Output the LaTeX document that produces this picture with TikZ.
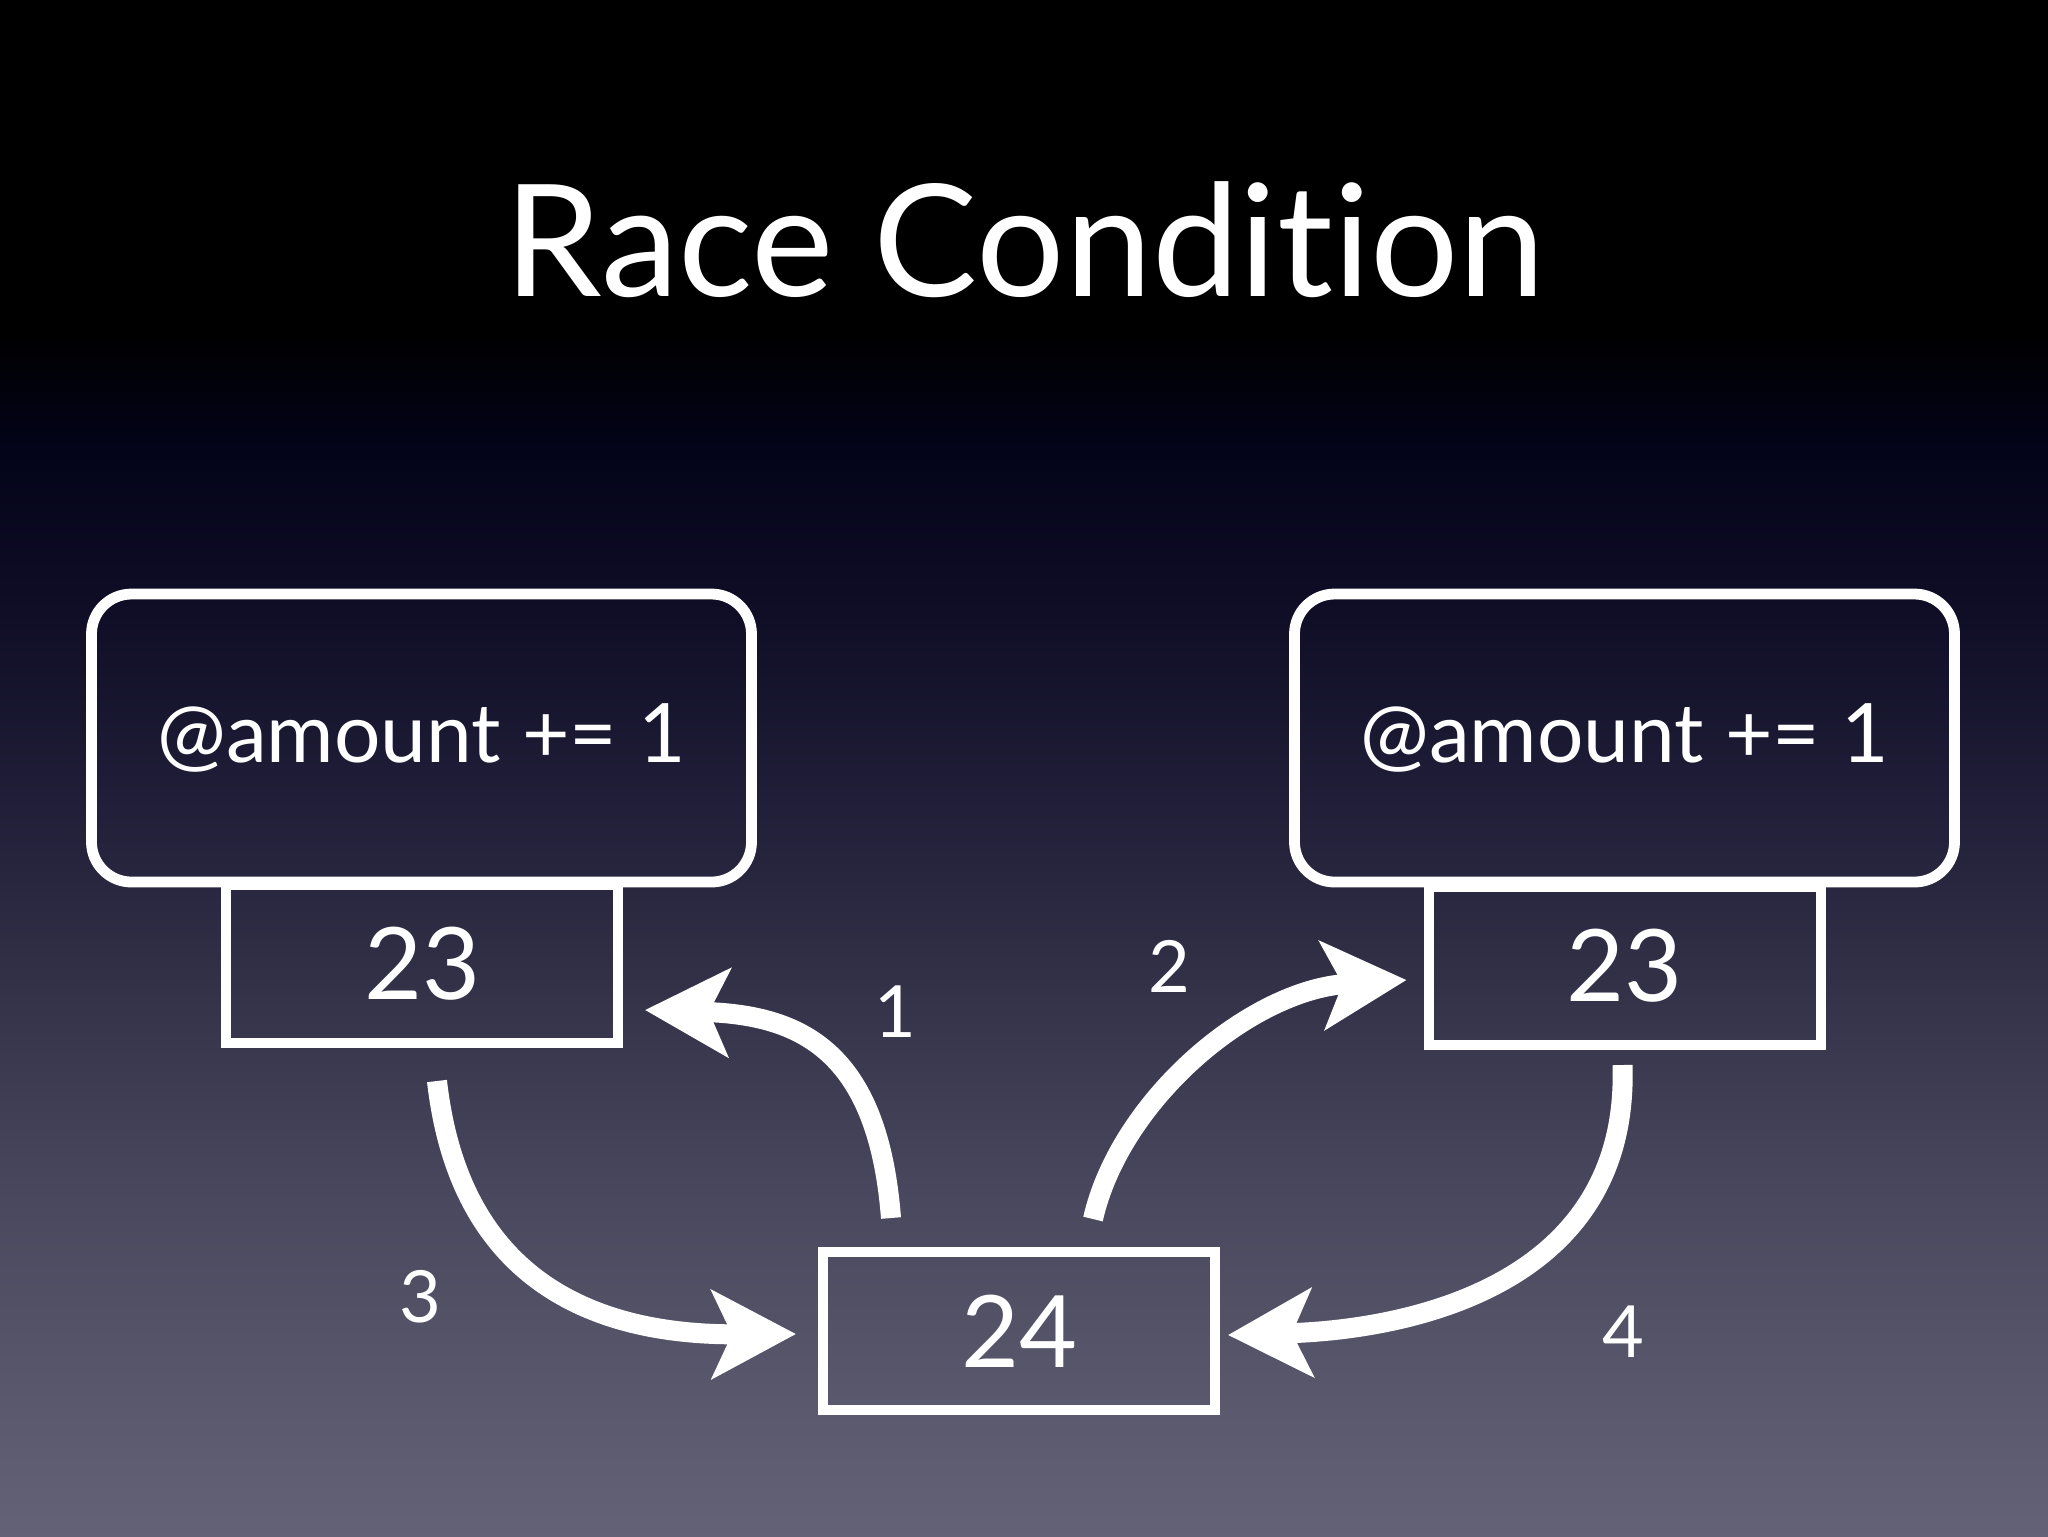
\documentclass[tikz,border=0pt]{standalone}
\usepackage{fontspec}
\setmainfont{Lato}[Ligatures=NoCommon]
\usetikzlibrary{arrows.meta,calc}
\definecolor{bg0}{HTML}{000000}
\definecolor{bg1}{HTML}{03031A}
\definecolor{bg2}{HTML}{0E0D25}
\definecolor{bg3}{HTML}{201E38}
\definecolor{bg4}{HTML}{353349}
\definecolor{bg5}{HTML}{4A485E}
\definecolor{bg6}{HTML}{5A586C}
\definecolor{bg7}{HTML}{646276}
\tikzset{
  codebox/.style={draw=white, line width=2.7pt, rounded corners=10pt, minimum width=165pt, minimum height=72pt, inner sep=0pt, text=white, font=\fontsize{20.5}{24}\selectfont},
  valbox/.style={draw=white, line width=2.5pt, minimum width=98pt, minimum height=39.5pt, inner sep=0pt, text=white, font=\fontsize{25}{30}\selectfont},
  steplabel/.style={text=white, font=\fontsize{18}{22}\selectfont, inner sep=0pt},
  titletext/.style={text=white, font=\fontsize{39}{46}\selectfont, inner sep=0pt},
  bigarrow/.style={draw=white, line width=5pt, -{Stealth[length=21pt, width=22pt, inset=5pt]}}
}
\begin{document}
\begin{tikzpicture}[x=0.25pt, y=-0.25pt]
\useasboundingbox (0,0) rectangle (2048,1536);
% background gradient
\fill[bg0] (0,0) rectangle (2048,331);
\shade[top color=bg0, bottom color=bg1] (0,330) rectangle (2048,451);
\shade[top color=bg1, bottom color=bg2] (0,450) rectangle (2048,601);
\shade[top color=bg2, bottom color=bg3] (0,600) rectangle (2048,801);
\shade[top color=bg3, bottom color=bg4] (0,800) rectangle (2048,1001);
\shade[top color=bg4, bottom color=bg5] (0,1000) rectangle (2048,1201);
\shade[top color=bg5, bottom color=bg6] (0,1200) rectangle (2048,1401);
\shade[top color=bg6, bottom color=bg7] (0,1400) rectangle (2048,1536);

\node[titletext] (title) at (1025,240) {Race Condition};

\node[codebox] (codeL) at (421.5,738) {@amount += 1};
\node[codebox] (codeR) at (1624.5,738) {@amount += 1};
\node[valbox] (valL) at (422,964) {23};
\node[valbox] (valR) at (1624.5,966) {23};
\node[valbox] (valM) at (1019,1331) {24};

\node[steplabel] (l1) at (895,1012) {1};
\node[steplabel] (l2) at (1169,966) {2};
\node[steplabel] (l3) at (420,1297) {3};
\node[steplabel] (l4) at (1623,1332) {4};

% 1: from 24 up to left 23
\draw[bigarrow] ($(valM.north west)+(73,-29)$) .. controls (878,1050) and (800,1015) .. ($(valL.east)+(22,46)$);
% 2: from 24 up to right 23
\draw[bigarrow] ($(valM.north west)+(275,-28)$) .. controls (1120,1100) and (1250,990) .. ($(valR.west)+(-17,14)$);
% 3: from left 23 down to 24
\draw[bigarrow] ($(valL.south)+(15,33)$) .. controls (460,1285) and (600,1335) .. ($(valM.west)+(-22,3)$);
% 4: from right 23 down to 24
\draw[bigarrow] ($(valR.south)+(-2,15)$) .. controls (1630,1290) and (1400,1330) .. ($(valM.east)+(8,4)$);
\end{tikzpicture}
\end{document}
